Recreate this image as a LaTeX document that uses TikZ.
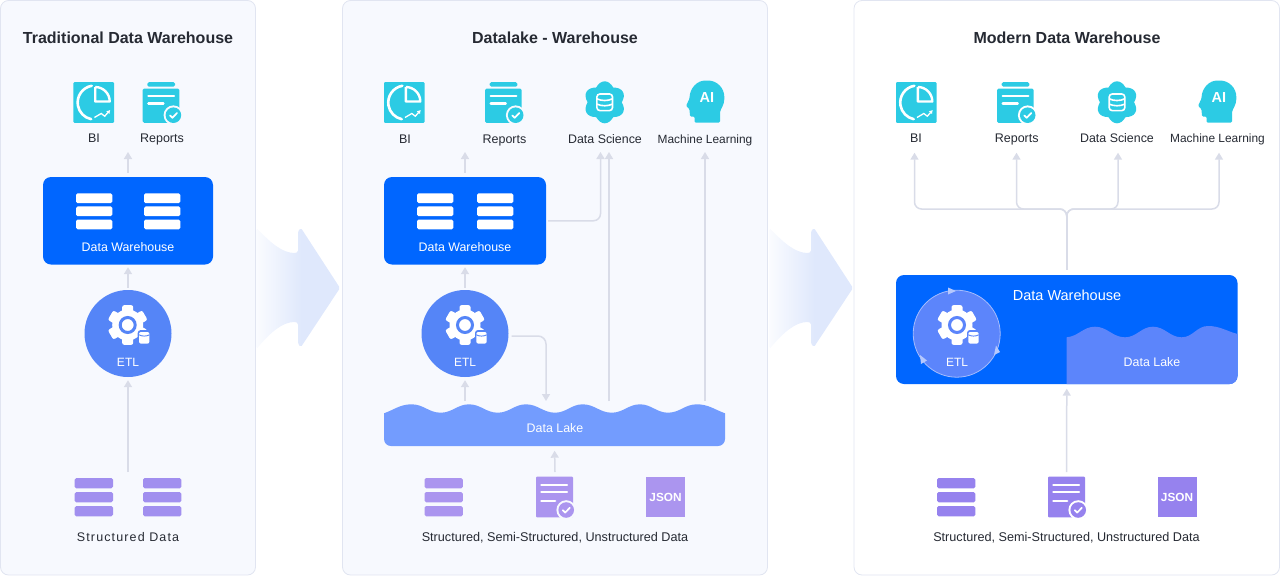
\documentclass[tikz,border=0pt]{standalone}
\usepackage{fontspec}
\setmainfont{Liberation Sans}
\newfontfamily\spacedfont[LetterSpace=9]{Liberation Sans}
\usetikzlibrary{arrows.meta,calc}
\definecolor{panelbg}{HTML}{F7F9FE}
\definecolor{panelline}{HTML}{E1E5F1}
\definecolor{teal}{HTML}{2CCBE4}
\definecolor{dwblue}{HTML}{0066FF}
\definecolor{etlblue}{HTML}{5585F7}
\definecolor{lakeblue}{HTML}{739CFE}
\definecolor{lakedark}{HTML}{5C85FB}
\definecolor{connc}{HTML}{D9DCE8}
\definecolor{purpA}{HTML}{A18FEF}
\definecolor{purpB}{HTML}{AB95EF}
\definecolor{purpC}{HTML}{9682EE}
\definecolor{textc}{HTML}{262A33}
\definecolor{arrowc}{HTML}{DFE8FC}
\colorlet{arrowstart}{white!85!arrowc}
\pgfdeclarehorizontalshading{arrsh}{100bp}{color(0bp)=(arrowstart);color(25bp)=(arrowstart);color(52bp)=(arrowc);color(100bp)=(arrowc)}
\newcommand{\fsz}[1]{\fontsize{#1}{#1}\selectfont}
\tikzset{
  panel/.style={draw=panelline,line width=.8pt,rounded corners=8pt},
  conn/.style={draw=connc,line width=1.5pt,-{Triangle[length=7pt,width=8pt]}},
  lab/.style={inner sep=0pt,anchor=base,text=textc,font=\fsz{12.5}},
  ttl/.style={inner sep=0pt,anchor=base,text=textc,font=\fsz{16}\bfseries},
  wlab/.style={inner sep=0pt,anchor=base,text=white,font=\fsz{12.4}},
  dwbox/.style={fill=dwblue,rounded corners=8pt,draw=none,inner sep=0pt},
  etlnode/.style={circle,fill=etlblue,minimum size=87pt,inner sep=0pt,draw=none},
  hit/.style={inner sep=0pt,draw=none}
}
% BI icon
\newcommand{\iconBI}[2]{\begin{scope}[shift={(#1,#2)}]
  \fill[teal,rounded corners=1pt] (-20.3,-20.3) rectangle (20.3,20.3);
  \draw[white,line width=2.6pt,line cap=round] (-2,-16.7) arc (-100:-258:17);
  \draw[white,line width=2.4pt,line join=round] (1.5,-15.5) -- (1.5,-1) -- (16,-1) arc (0:-90:14.5);
  \draw[white,line width=1.3pt,-{Latex[length=3.5pt,width=4.5pt]}] (.7,15) -- (7.5,11) -- (11,13.7) -- (16.5,7.5);
\end{scope}}
% badge
\newcommand{\badge}[5]{\begin{scope}[shift={(#1,#2)}]
  \fill[#4] (0,0) circle (9.8);
  \fill[#3] (0,0) circle (7.8);
  \draw[#5,line width=1.7pt,line cap=round,line join=round] (-3.4,.2) -- (-1,2.6) -- (3.6,-2.2);
\end{scope}}
% Reports icon
\newcommand{\iconReports}[3]{\begin{scope}[shift={(#1,#2)}]
  \fill[teal,rounded corners=1.5pt] (-15.3,-20.3) rectangle (12.3,-15.8);
  \fill[teal,rounded corners=1.5pt] (-20,-14) rectangle (16.7,20.3);
  \draw[white,line width=2.4pt,line cap=round] (-14.3,-6.3) -- (11.3,-6.3);
  \draw[white,line width=2.4pt,line cap=round] (-14.3,1) -- (.7,1);
  \badge{10.7}{12.7}{teal}{#3}{white}
\end{scope}}
% Data science icon
\newcommand{\iconDS}[2]{\begin{scope}[shift={(#1,#2)}]
  \foreach \a in {90,30,-30}{\fill[teal,rotate=\a] (0,0) ellipse (21 and 12);}
  \fill[teal] (0,0) circle (16);
  \draw[white,line width=1.6pt,rounded corners=3pt] (-7.8,-8.3) rectangle (7.8,8.3);
  \draw[white,line width=1.6pt] (-7.8,-3.5) .. controls (-3,-1.2) and (3,-1.2) .. (7.8,-3.5);
  \draw[white,line width=1.6pt] (-7.8,1.8) .. controls (-3,4) and (3,4) .. (7.8,1.8);
\end{scope}}
% AI head icon
\newcommand{\iconAI}[3]{\begin{scope}[shift={(#1,#2)}]
  \fill[teal,rounded corners=1.2pt] (-10.5,20.5) -- (-10.5,14.5) -- (-15,14.5) -- (-15.5,7) -- (-19,4) -- (-15.5,-3.5)
     .. controls (-15,-14) and (-8,-21.5) .. (1.7,-21.5)
     .. controls (12,-21.5) and (19.3,-14) .. (19.3,-4)
     .. controls (19.3,3) and (15.5,7) .. (15,11) -- (15,20.5) -- cycle;
  \node[hit,text=white,font=\fsz{14.5}\bfseries] (#3) at (1.8,-4.6) {AI};
\end{scope}}
% table stack
\newcommand{\stackico}[6]{% x,y,w,h,pitch,color
  \foreach \k in {0,1,2}{\fill[#6,rounded corners=1.6pt] (#1,{#2+\k*#5}) rectangle ({#1+#3},{#2+\k*#5+#4});}}
% document icon
\newcommand{\iconDoc}[4]{\begin{scope}[shift={(#1,#2)}]
  \fill[#3,rounded corners=1pt] (-18.5,-20.3) rectangle (18.5,20.3);
  \draw[white,line width=2.2pt,line cap=round] (-13.2,-12) -- (12.5,-12);
  \draw[white,line width=2.2pt,line cap=round] (-13.2,-4.7) -- (12.5,-4.7);
  \draw[white,line width=2.2pt,line cap=round] (-13.2,3.7) -- (.7,3.7);
  \badge{11.7}{13}{#3}{#4}{white}
\end{scope}}
% gear icon
\newcommand{\gearico}[3]{\begin{scope}[shift={(#1,#2)}]
  \foreach \a in {0,60,120,180,240,300}{\fill[white,rotate=\a,rounded corners=2pt] (-5.5,-19.8) rectangle (5.5,0);}
  \fill[white] (0,0) circle (15.5);
  \draw[#3,line width=3pt] (0,0) circle (7.5);
  \fill[#3,rounded corners=3pt] (10,5) rectangle (23.5,20);
  \fill[white,rounded corners=2pt] (11.3,7) rectangle (21.7,18.6);
  \draw[#3,line width=.9pt] (11.3,9.8) .. controls (14,11.5) and (19,11.5) .. (21.7,9.8);
\end{scope}}
% wide arrow between panels
\newcommand{\bigarrow}[1]{\begin{scope}[shift={(#1,0)}]
  \shade[shading=arrsh,rounded corners=1.5pt] (256.5,228) .. controls (270,242) and (282,253) .. (296,253)
     -- (298,252) -- (298,231) -- (301,228) -- (340,288) -- (301,347) -- (298,344) -- (298,323) -- (296,322)
     .. controls (282,322) and (270,333) .. (256.5,349) -- cycle;
\end{scope}}
\begin{document}
\begin{tikzpicture}[x=1pt,y=1pt,yscale=-1]
\useasboundingbox (0,0) rectangle (1280,576);
% panels
\path[panel,fill=panelbg] (.5,.5) rectangle (255.5,575);
\path[panel,fill=panelbg] (342.5,.5) rectangle (767.5,575);
\path[panel,fill=white] (854,.5) rectangle (1279.5,575);
\bigarrow{0}
\bigarrow{513}
% ---------- panel 1 ----------
\node[ttl] (title1) at (128,43.5) {Traditional Data Warehouse};
\iconBI{93.7}{102.5}
\iconReports{162.7}{102.5}{panelbg}
\node[lab] (bi1) at (94,142.3) {BI};
\node[lab] (rep1) at (162,142.3) {Reports};
\node[dwbox,minimum width=170pt,minimum height=87.5pt] (dw1) at (128,220.75) {};
\stackico{76}{193.3}{36.3}{9.8}{13.1}{white}
\stackico{144}{193.3}{36.3}{9.8}{13.1}{white}
\node[wlab] (dw1t) at (128,251) {Data Warehouse};
\node[etlnode] (etl1) at (128,333.5) {};
\gearico{127.7}{325}{etlblue}
\node[wlab,font=\fsz{12}] (etl1t) at (128,366) {ETL};
\stackico{74.7}{478}{38.3}{10.3}{14}{purpA}
\stackico{143}{478}{38.3}{10.3}{14}{purpA}
\node[lab,font=\fsz{12.5}\spacedfont] (sd1) at (128,541) {Structured Data};
\coordinate (top1) at (128,152);
\coordinate (in1) at (128,472);
\draw[conn,shorten <=4pt] (dw1.north) -- (top1);
\draw[conn,shorten <=2pt,shorten >=2.5pt] (etl1.north) -- (dw1.south);
\draw[conn,shorten >=3pt] (in1) -- (etl1.south);
% ---------- panel 2 ----------
\node[ttl] (title2) at (555,43.5) {Datalake - Warehouse};
\iconBI{404.3}{102.5}
\iconReports{505}{102.5}{panelbg}
\iconDS{604.7}{102.3}
\iconAI{705}{102}{ai2}
\node[lab] (bi2) at (405,143.3) {BI};
\node[lab] (rep2) at (504.5,143.3) {Reports};
\node[lab,font=\fsz{12.4}] (ds2) at (605,143.3) {Data Science};
\node[lab,font=\fsz{11.9}] (ml2) at (705,143.3) {Machine Learning};
\node[dwbox,minimum width=162pt,minimum height=87.5pt] (dw2) at (465,220.75) {};
\stackico{417}{193.3}{36.3}{9.8}{13.1}{white}
\stackico{477}{193.3}{36.3}{9.8}{13.1}{white}
\node[wlab] (dw2t) at (465,251) {Data Warehouse};
\node[etlnode] (etl2) at (465,333.5) {};
\gearico{465}{325}{etlblue}
\node[wlab,font=\fsz{12}] (etl2t) at (465,366) {ETL};
% lake
\fill[lakeblue,rounded corners=0pt] (384,413.3) to[out=-20,in=180] (411.7,404.3)
  to[out=0,in=180] (440.7,412.7) to[out=0,in=180] (469,404.3)
  to[out=0,in=180] (497.7,412.7) to[out=0,in=180] (526,404.3)
  to[out=0,in=180] (555,412.7) to[out=0,in=180] (582.7,404.3)
  to[out=0,in=180] (611.7,412.7) to[out=0,in=180] (640,404.3)
  to[out=0,in=180] (668,412.7) to[out=0,in=180] (696.7,404.3)
  to[out=0,in=200] (725,413.3) -- (725,439) arc (0:90:7) -- (391,446) arc (90:180:7) -- cycle;
\node[hit,minimum width=341pt,minimum height=38pt] (lake2) at (554.5,427) {};
\node[wlab] (lake2t) at (555,432) {Data Lake};
\stackico{424.5}{478}{38.3}{10.3}{14}{purpB}
\iconDoc{554.5}{497}{purpB}{panelbg}
\node[hit,fill=purpB,minimum width=39pt,minimum height=40.6pt,text=white,font=\fsz{11.8}\bfseries] (json2) at (665.5,497) {JSON};
\node[lab,font=\fsz{12.65}] (sd2) at (555,541) {Structured, Semi-Structured, Unstructured Data};
\coordinate (top2) at (465,152);
\coordinate (dsA) at (600.5,152);
\coordinate (dsB) at (609,152);
\coordinate (mlA) at (705,152);
\coordinate (lsB) at (609,401);
\coordinate (lsC) at (705,401);
\coordinate (etlOut) at (511.5,336);
\coordinate (lakeIn) at (546,401);
\coordinate (lakeUp) at (465,401);
\coordinate (in2) at (555,472);
\draw[conn,shorten <=4pt] (dw2.north) -- (top2);
\draw[conn,shorten <=2pt,shorten >=2.5pt] (etl2.north) -- (dw2.south);
\draw[conn,rounded corners=7pt,shorten <=2pt] (dw2.east) -| (dsA);
\draw[conn] (lsB) -- (dsB);
\draw[conn] (lsC) -- (mlA);
\draw[conn,rounded corners=8pt] (etlOut) -| (lakeIn);
\draw[conn,shorten >=3pt] (lakeUp) -- (etl2.south);
\draw[conn,shorten >=4.5pt] (in2) -- (lake2.south);
% ---------- panel 3 ----------
\node[ttl] (title3) at (1067,43.5) {Modern Data Warehouse};
\iconBI{916.3}{102.5}
\iconReports{1017}{102.5}{white}
\iconDS{1117}{102.3}
\iconAI{1217}{102}{ai3}
\node[lab] (bi3) at (916,142.3) {BI};
\node[lab] (rep3) at (1016.7,142.3) {Reports};
\node[lab,font=\fsz{12.4}] (ds3) at (1117,142.3) {Data Science};
\node[lab,font=\fsz{11.9}] (ml3) at (1217.5,142.3) {Machine Learning};
\node[dwbox,minimum width=341.5pt,minimum height=109pt] (dw3) at (1066.75,329.5) {};
\fill[lakedark] (1066.7,337.3) to[out=-5,in=180] (1095,326.7) to[out=0,in=180] (1125,337.3)
  to[out=0,in=180] (1153,326.7) to[out=0,in=180] (1181.7,337.3) to[out=0,in=180] (1208,326)
  to[out=0,in=195] (1237.5,334) -- (1237.5,376) arc (0:90:8) -- (1066.7,384) -- cycle;
\node[wlab,font=\fsz{14.5}] (dw3t) at (1067,300.7) {Data Warehouse};
\node[wlab] (lake3t) at (1152,366) {Data Lake};
\node[etlnode,fill=lakedark,draw=white!45!lakedark,line width=.8pt] (etl3) at (956.7,333.7) {};
\gearico{957}{325}{lakedark}
\node[wlab,font=\fsz{12}] (etl3t) at (957,366) {ETL};
\fill[white!55!lakedark] (948,287.5) -- (956,291) -- (948,294.5) -- cycle;
\fill[white!55!lakedark] (996,345.5) -- (1000,352) -- (994,355) -- cycle;
\fill[white!55!lakedark] (920,355) -- (927,360.5) -- (921,364) -- cycle;
\stackico{937}{478}{38.3}{10.3}{14}{purpC}
\iconDoc{1066.5}{497}{purpC}{white}
\node[hit,fill=purpC,minimum width=39pt,minimum height=40.6pt,text=white,font=\fsz{11.8}\bfseries] (json3) at (1177,497) {JSON};
\node[lab,font=\fsz{12.65}] (sd3) at (1066.5,541) {Structured, Semi-Structured, Unstructured Data};
\coordinate (t3a) at (914.5,152.7);
\coordinate (t3b) at (1016.5,152.7);
\coordinate (t3c) at (1118,152.7);
\coordinate (t3d) at (1219,152.7);
\coordinate (in3) at (1066.7,472);
\foreach \t in {t3a,t3b,t3c,t3d}{
  \draw[conn,rounded corners=7pt,shorten <=5pt] (dw3.north) |- ($(\t)+(0,56.3)$) -- (\t);
}
\draw[conn,shorten >=4.5pt] (in3) -- (dw3.south);
\end{tikzpicture}
\end{document}
